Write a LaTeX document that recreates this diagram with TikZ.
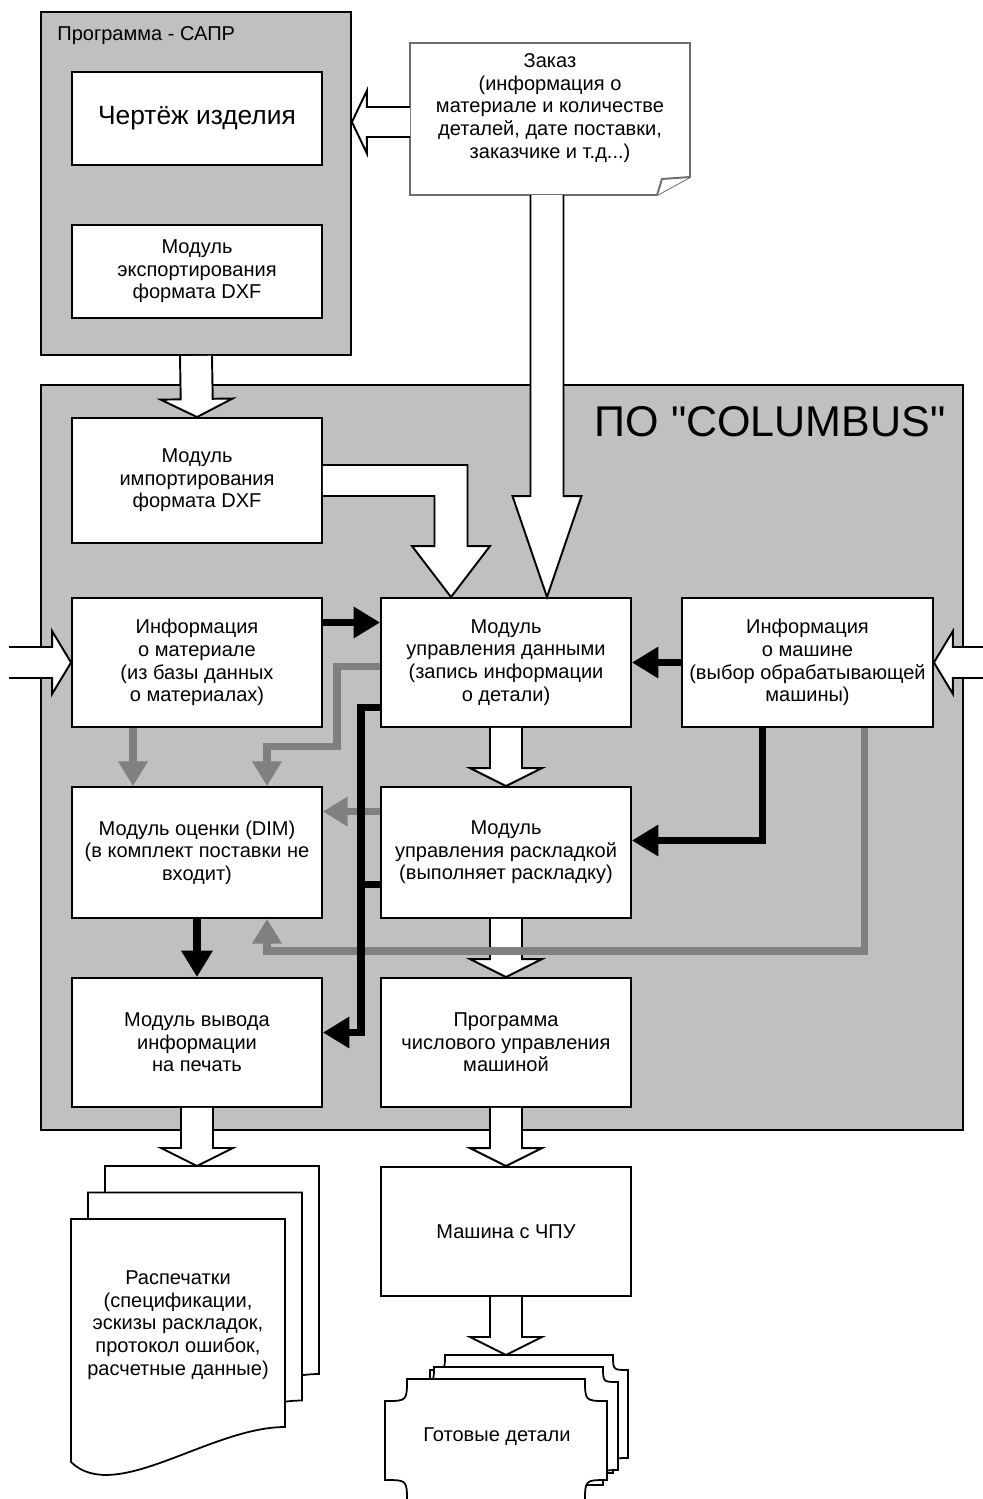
\documentclass[tikz,border=0pt]{standalone}
\usepackage{fontspec}
\setmainfont{Liberation Sans}
\newfontfamily\plainquotes[Ligatures=TeXOff]{Liberation Sans}
\usetikzlibrary{calc,arrows.meta}

\definecolor{panelgray}{RGB}{192,192,192}
\definecolor{flowgray}{RGB}{128,128,128}
\definecolor{notegray}{RGB}{110,110,110}

\newcommand\boxfont{\fontsize{11.4}{12.9}\selectfont}

% wide white arrow: start, tip, head length, half shaft, half head
\newcommand\fatarrow[5]{%
  \coordinate (fa-h) at ($(#2)!#3!(#1)$);
  \draw[hollow] ($(#1)!#4!90:(#2)$) -- ($(fa-h)!#4!90:(#2)$) -- ($(fa-h)!#5!90:(#2)$) -- (#2) -- ($(fa-h)!#5!-90:(#2)$) -- ($(fa-h)!#4!-90:(#2)$) -- ($(#1)!#4!-90:(#2)$);
}

\tikzset{
  panel/.style={draw, line width=1.1pt, fill=panelgray},
  modbox/.style={draw, line width=1.1pt, fill=white, minimum width=5cm, minimum height=2.58cm, align=center, font=\boxfont, inner sep=2pt},
  hollow/.style={draw, line width=1.1pt, fill=white, line join=miter},
  blk/.style={line width=4.5pt, -{Triangle[length=15pt,width=17pt]}},
  gry/.style={line width=4.5pt, draw=flowgray, -{Triangle[length=14pt,width=16pt]}},
  note/.style={draw=notegray, line width=1.1pt, fill=white},
  sheet/.style={draw, line width=1pt, fill=white},
  pics/printsheet/.style={code={
    \draw[sheet] (0,0) -- (214,0) -- (214,208) .. controls (139,208) and (44,286) .. (0,243) -- cycle;
  }},
  pics/partcard/.style n args={3}{code={
    \draw[sheet] (#3,0) -- ({#1-#3},0) .. controls ({#1-#3},#3) .. (#1,#3) -- (#1,{#2-#3}) .. controls ({#1-#3},{#2-#3}) .. ({#1-#3},#2) -- (#3,#2) .. controls (#3,{#2-#3}) .. (0,{#2-#3}) -- (0,#3) .. controls (#3,#3) .. (#3,0) -- cycle;
  }}
}

\begin{document}
\begin{tikzpicture}[x=0.02cm, y=-0.02cm]
\useasboundingbox (0,0) rectangle (983,1499);

% CAD program
\node[panel, minimum width=6.2cm, minimum height=6.86cm] (cad) at (196,183.5) {};
\node[anchor=west, inner sep=0, font=\boxfont] (cadtitle) at (57,36) {Программа - САПР};
\node[modbox, minimum height=1.86cm, font=\fontsize{15}{18}\selectfont] (drawing) at (197,118.5) {Чертёж изделия};
\node[modbox, minimum height=1.86cm] (export) at (197,271.5) {Модуль\\экспортирования\\формата DXF};

% order note
\draw[note] (410,43) -- (690,43) -- (690,177) -- (657,195) -- (410,195) -- cycle;
\draw[note] (657,195) -- (662,179) -- (690,177);
\node[align=center, font=\boxfont] (order) at (550,108) {Заказ\\(информация о\\материале и количестве\\деталей, дате поставки,\\заказчике и т.д...)};
\coordinate (ord-w) at (410,122);
\coordinate (ord-s) at (547,195);

% COLUMBUS
\node[panel, minimum width=18.44cm, minimum height=14.9cm] (columbus) at (502,757.5) {};
\node[anchor=east, inner sep=0, font=\plainquotes\fontsize{24.5}{28}\selectfont] (coltitle) at (946,422) {ПО "COLUMBUS"};

\node[modbox, minimum height=2.5cm] (imp) at (197,480.5) {Модуль\\импортирования\\формата DXF};
\node[modbox] (info) at (197,662.5) {Информация\\о материале\\(из базы данных\\о материалах)};
\node[modbox] (data) at (506,662.5) {Модуль\\управления данными\\(запись информации\\о детали)};
\node[modbox, minimum width=5.02cm] (mach) at (807.5,662.5) {Информация\\о машине\\(выбор обрабатывающей\\машины)};
\node[modbox, minimum height=2.62cm] (dim) at (197,852.5) {Модуль оценки (DIM)\\(в комплект поставки не\\входит)};
\node[modbox, minimum height=2.62cm] (layout) at (506,852.5) {Модуль\\управления раскладкой\\(выполняет раскладку)};
\node[modbox] (print) at (197,1042.5) {Модуль вывода\\информации\\на печать};
\node[modbox] (nc) at (506,1042.5) {Программа\\числового управления\\машиной};

% outputs
\node[modbox] (cnc) at (506,1231.5) {Машина с ЧПУ};
\pic at (105,1166) {printsheet};
\pic at (88,1192.5) {printsheet};
\pic at (71,1219) {printsheet};
\node[align=center, font=\boxfont] (prints) at (178,1325) {Распечатки\\(спецификации,\\эскизы раскладок,\\протокол ошибок,\\расчетные данные)};
\pic at (430,1355) {partcard={198}{118}{15}};
\pic at (419,1367) {partcard={199}{118}{15}};
\pic at (385,1379) {partcard={222}{123}{22}};
\node[font=\boxfont] (parts) at (497,1437) {Готовые детали};

\coordinate (ord-tip) at (cad.east |- ord-w);
\coordinate (data-tip) at ($(data.north)+(41,0)$);
\coordinate (imp-tip) at ($(data.north)+(-55,0)$);
\coordinate (in-l) at (9,662.5);
\coordinate (in-r) at (995,662.5);
\coordinate (prints-top) at (197,1166);
\coordinate (parts-top) at (506,1355);

% white arrows
\fatarrow{ord-w}{ord-tip}{0.3cm}{0.3cm}{0.63cm}
\fatarrow{cad.south}{imp.north}{0.36cm}{0.32cm}{0.72cm}
\fatarrow{ord-s}{data-tip}{2.02cm}{0.33cm}{0.69cm}
\fatarrow{in-l}{info.west}{0.38cm}{0.31cm}{0.63cm}
\fatarrow{in-r}{mach.east}{0.38cm}{0.31cm}{0.63cm}
\fatarrow{data.south}{layout.north}{0.36cm}{0.32cm}{0.72cm}
\fatarrow{layout.south}{nc.north}{0.36cm}{0.32cm}{0.72cm}
\fatarrow{print.south}{prints-top}{0.36cm}{0.32cm}{0.72cm}
\fatarrow{nc.south}{cnc.north}{0.36cm}{0.32cm}{0.72cm}
\fatarrow{cnc.south}{parts-top}{0.36cm}{0.32cm}{0.72cm}
\draw[hollow] let \p1=(imp.east), \p2=(imp-tip) in
  (\x1,\y1+0.31cm) -- (\x2+0.33cm,\y1+0.31cm) -- (\x2+0.33cm,\y2+1.02cm) -- (\x2+0.78cm,\y2+1.02cm) -- (\p2)
  -- (\x2-0.78cm,\y2+1.02cm) -- (\x2-0.33cm,\y2+1.02cm) -- (\x2-0.33cm,\y1-0.31cm) -- (\x1,\y1-0.31cm);

% grey flows
\draw[gry] ($(info.south)+(-64,0)$) -- ($(dim.north)+(-64,0)$);
\draw[gry] ($(data.west)+(0,4)$) -- ++(-43,0) -- ++(0,80) -| ($(dim.north)+(70,0)$);
\draw[gry] ($(layout.west)+(0,-41)$) -- ($(dim.east)+(0,-41)$);
\draw[gry] ($(mach.south)+(57,0)$) -- ++(0,223) -| ($(dim.south)+(70,0)$);

% black flows
\draw[blk] ($(info.east)+(0,-40)$) -- ($(data.west)+(0,-40)$);
\draw[blk] (mach.west) -- (data.east);
\draw[blk] ($(mach.south)+(-45,0)$) |- ($(layout.east)+(0,-12)$);
\draw[blk] (dim.south) -- (print.north);
\draw[blk] ($(data.west)+(0,45)$) -- ++(-19,0) |- ($(print.east)+(0,-10)$);
\draw[line width=4.5pt] ($(layout.west)+(0,32)$) -- ++(-21,0);
\end{tikzpicture}
\end{document}
